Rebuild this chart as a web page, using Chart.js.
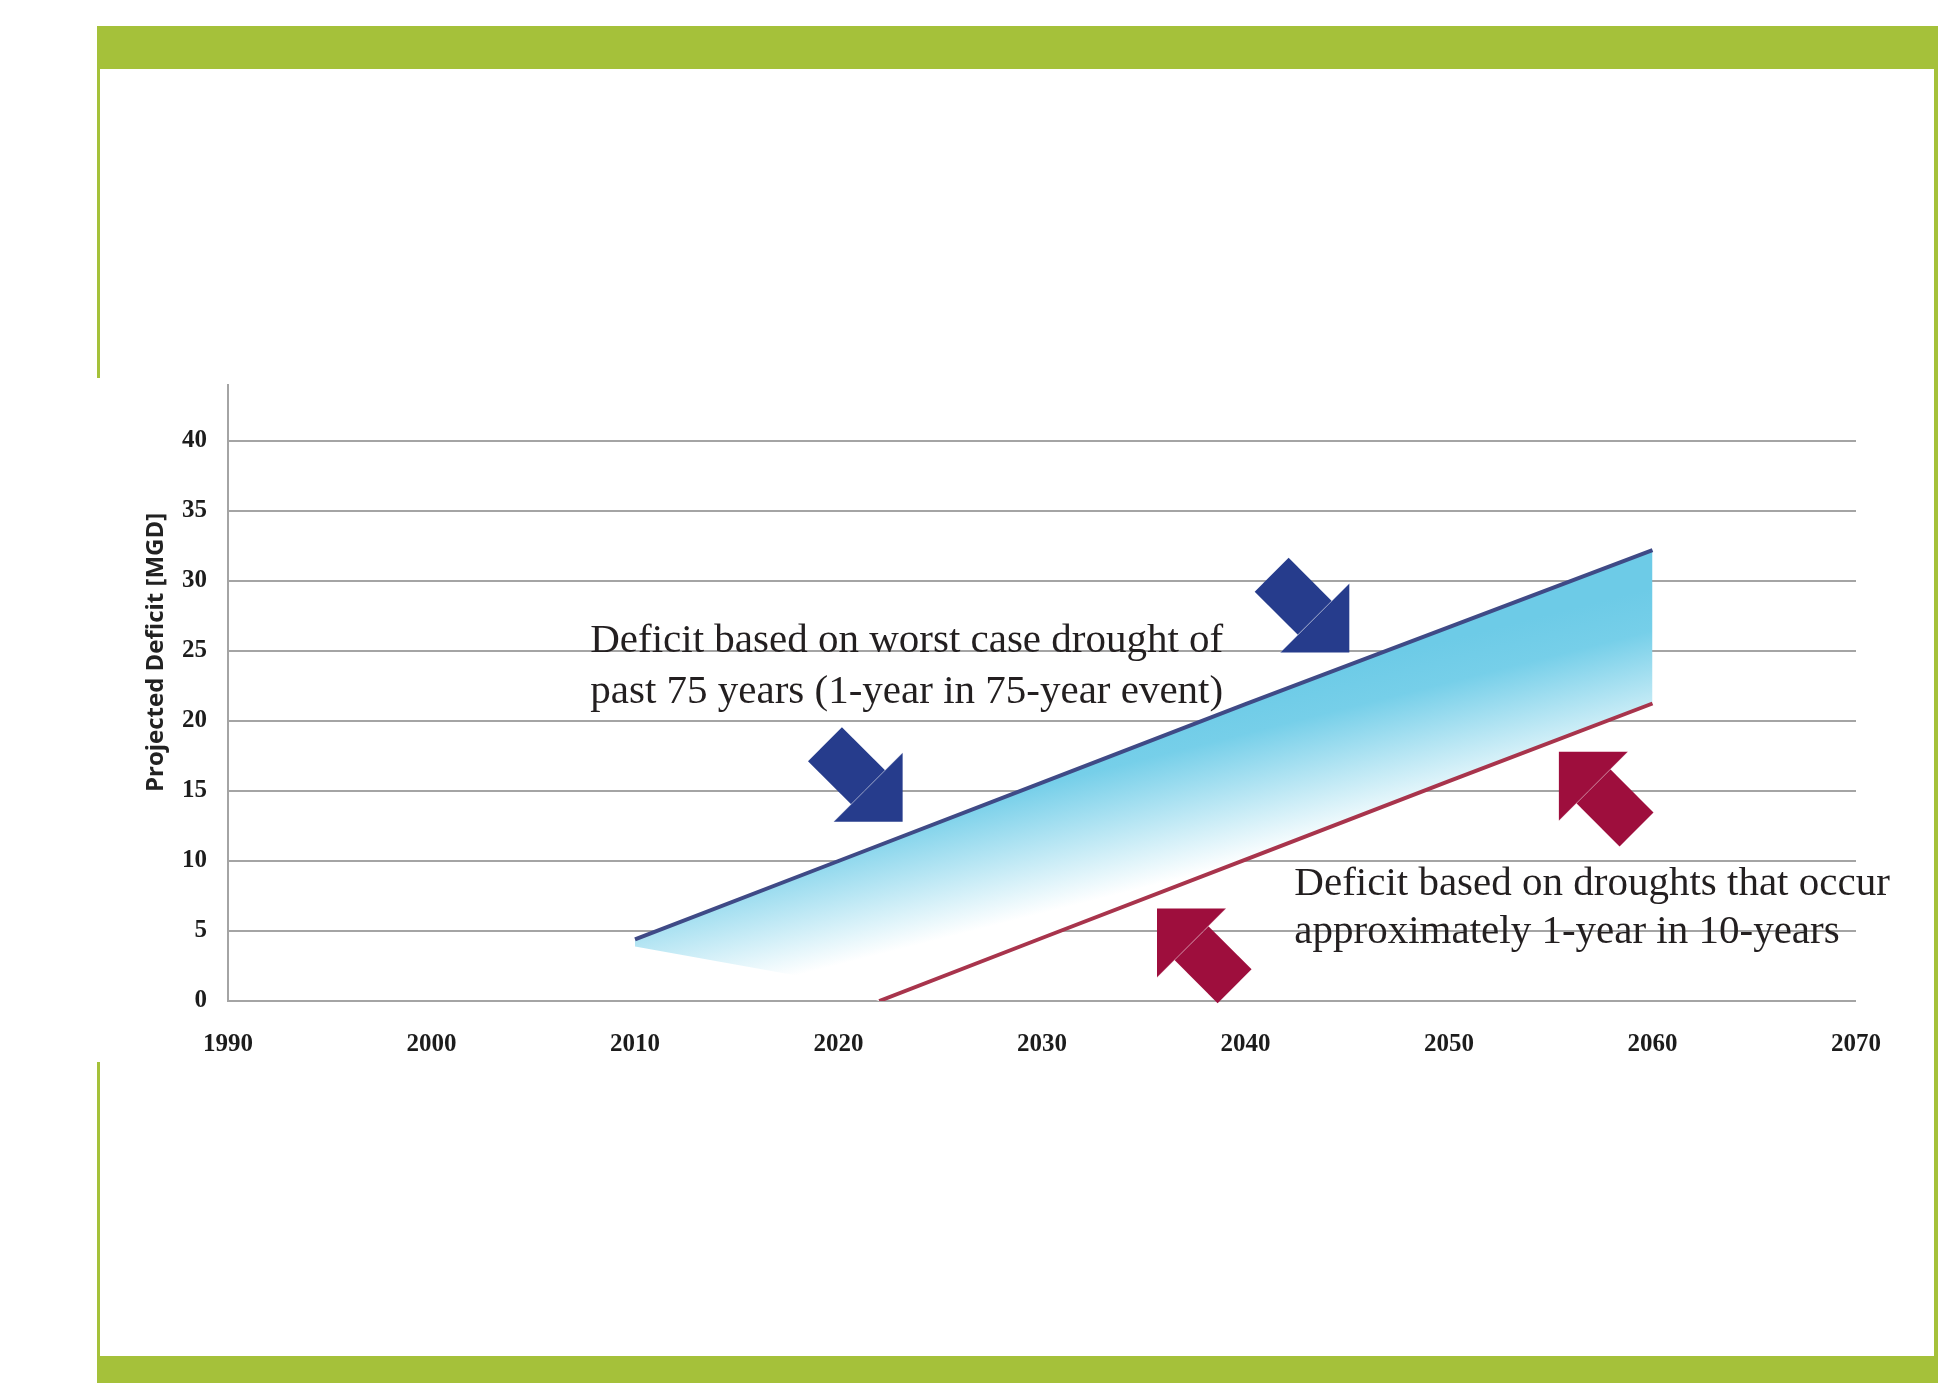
<!DOCTYPE html>
<html>
<head>
<meta charset="utf-8">
<script src="https://cdn.jsdelivr.net/npm/chart.js@4.4.1/dist/chart.umd.min.js"></script>
<style>
  html, body { margin: 0; padding: 0; background: #fff; }
  canvas { display: block; }
</style>
</head>
<body>
<canvas id="chart" width="1947" height="1383"></canvas>
<script>
// worst case drought of past 75 years (1-year in 75-year event)
const worstYears = [2010, 2020, 2030, 2040, 2050, 2060];
const worstDeficit = [4.4, 10.0, 15.6, 21.2, 26.7, 32.2];

// droughts that occur about 1-year in 10-years
const tenYearYears = [2022, 2030, 2040, 2050, 2060];
const tenYearDeficit = [0, 4.5, 10.1, 15.7, 21.25];

// lower edge of the shaded band (left part fades out before the red line starts)
const bandBaseYears = [2010, 2018, 2022, 2030, 2040, 2050, 2060];
const bandBaseDeficit = [3.9, 1.8, 0, 4.5, 10.1, 15.7, 21.25];

const yearTicks = [1990, 2000, 2010, 2020, 2030, 2040, 2050, 2060, 2070];
const deficitTicks = [0, 5, 10, 15, 20, 25, 30, 35, 40];

// call-out text, anchored in data units (left edge, baseline)
const notes = [
    { year: 2007.8, value: 24.9, text: 'Deficit based on worst case drought of' },
    { year: 2007.8, value: 21.3, text: 'past 75 years (1-year in 75-year event)' },
    { year: 2042.4, value: 7.6, text: 'Deficit based on droughts that occur' },
    { year: 2042.4, value: 4.15, text: 'approximately 1-year in 10-years' }
];

// block arrows, anchored at the arrow tip
const arrows = [
    { year: 2045.1, value: 24.9, dir: 1, color: '#263c8c' },
    { year: 2023.15, value: 12.8, dir: 1, color: '#263c8c' },
    { year: 2055.4, value: 17.8, dir: -1, color: '#9e0e3d' },
    { year: 2035.65, value: 6.6, dir: -1, color: '#9e0e3d' }
];

const green = '#a5c13a';
const gridGray = '#a4a4a4';

const toPoints = (xs, ys) => xs.map((x, i) => ({ x: x, y: ys[i] }));

function bandFill(context) {
    const chart = context.chart;
    const { ctx, chartArea, scales } = chart;
    if (!chartArea) return 'rgba(110,205,232,0.7)';
    const g = ctx.createLinearGradient(
        scales.x.getPixelForValue(2045), scales.y.getPixelForValue(24),
        scales.x.getPixelForValue(2047), scales.y.getPixelForValue(12.5));
    g.addColorStop(0, '#6dcbe7');
    g.addColorStop(0.25, '#76cfe9');
    g.addColorStop(1, '#ffffff');
    return g;
}

function drawArrow(c, tx, ty, dir, color) {
    const L = 69;      // head leg
    const W = 48;      // shaft width
    const S = 61;      // shaft length
    const r = Math.SQRT1_2;
    const ux = dir * r, uy = dir * r;   // direction the arrow points
    const nx = r, ny = -r;
    const mx = tx - ux * L * r, my = ty - uy * L * r;
    const bx = mx - ux * S, by = my - uy * S;
    c.fillStyle = color;
    c.beginPath();
    c.moveTo(mx + nx * W / 2, my + ny * W / 2);
    c.lineTo(bx + nx * W / 2, by + ny * W / 2);
    c.lineTo(bx - nx * W / 2, by - ny * W / 2);
    c.lineTo(mx - nx * W / 2, my - ny * W / 2);
    c.closePath();
    c.fill();
    c.beginPath();
    c.moveTo(tx, ty);
    c.lineTo(tx - dir * L, ty);
    c.lineTo(tx, ty - dir * L);
    c.closePath();
    c.fill();
    // faint seam where shaft meets head
    c.strokeStyle = 'rgba(255,255,255,0.35)';
    c.lineWidth = 1;
    c.beginPath();
    c.moveTo(tx - dir * L, ty);
    c.lineTo(tx, ty - dir * L);
    c.stroke();
}

const pagePlugin = {
    id: 'page',
    beforeDraw(chart) {
        const c = chart.ctx;
        c.save();
        c.fillStyle = '#fff';
        c.fillRect(0, 0, chart.width, chart.height);
        c.fillStyle = green;
        c.fillRect(97, 26, 1841, 43);
        c.fillRect(97, 1356, 1841, 27);
        c.fillRect(97, 69, 3, 309);
        c.fillRect(97, 1062, 3, 294);
        c.fillRect(1934, 69, 4, 1287);
        c.restore();
    },
    afterDatasetsDraw(chart) {
        const c = chart.ctx;
        const xs = chart.scales.x, ys = chart.scales.y;
        c.save();
        arrows.forEach(a => {
            drawArrow(c, xs.getPixelForValue(a.year), ys.getPixelForValue(a.value), a.dir, a.color);
        });
        c.fillStyle = '#231f20';
        c.font = '41px "Liberation Serif", serif';
        c.textAlign = 'left';
        c.textBaseline = 'alphabetic';
        notes.forEach(n => {
            c.fillText(n.text, xs.getPixelForValue(n.year), ys.getPixelForValue(n.value));
        });
        c.restore();
    }
};

const tickFont = { family: '"Liberation Serif", serif', weight: 'bold', size: 25 };

new Chart(document.getElementById('chart'), {
    type: 'line',
    data: {
        datasets: [
            {
                label: '1-year in 10-years',
                data: toPoints(tenYearYears, tenYearDeficit),
                borderColor: '#a8344c',
                borderWidth: 4,
                pointRadius: 0,
                fill: false
            },
            {
                label: '1-year in 75-years',
                data: toPoints(worstYears, worstDeficit),
                borderColor: '#3f4a86',
                borderWidth: 4,
                pointRadius: 0,
                backgroundColor: bandFill,
                fill: '+1'
            },
            {
                label: 'band base',
                data: toPoints(bandBaseYears, bandBaseDeficit),
                borderWidth: 0,
                borderColor: 'rgba(0,0,0,0)',
                pointRadius: 0,
                fill: false
            }
        ]
    },
    options: {
        responsive: false,
        animation: false,
        layout: { padding: { left: 100, right: 91, top: 385, bottom: 302 } },
        plugins: {
            legend: { display: false },
            tooltip: { enabled: false }
        },
        scales: {
            x: {
                type: 'linear',
                min: 1990,
                max: 2070,
                afterFit: s => { s.height = 80; },
                afterBuildTicks: s => { s.ticks = yearTicks.map(v => ({ value: v })); },
                grid: { display: false, drawTicks: false },
                border: { display: false },
                ticks: {
                    padding: 29,
                    color: '#1c1c1c',
                    font: tickFont,
                    maxRotation: 0,
                    callback: v => String(v)
                }
            },
            y: {
                min: 0,
                max: 44,
                afterFit: s => { s.width = 128; },
                afterBuildTicks: s => { s.ticks = deficitTicks.map(v => ({ value: v })); },
                grid: { color: gridGray, lineWidth: 2, drawTicks: false },
                border: { display: true, color: gridGray, width: 2 },
                ticks: {
                    padding: 21,
                    color: '#1c1c1c',
                    font: tickFont,
                    callback: v => String(v)
                },
                title: {
                    display: true,
                    text: '             Projected Deficit [MGD]',
                    color: '#222',
                    font: { family: '"Open Sans", sans-serif', weight: 'bold', size: 24 },
                    padding: { top: 42, bottom: 0 }
                }
            }
        }
    },
    plugins: [pagePlugin]
});
</script>
</body>
</html>
